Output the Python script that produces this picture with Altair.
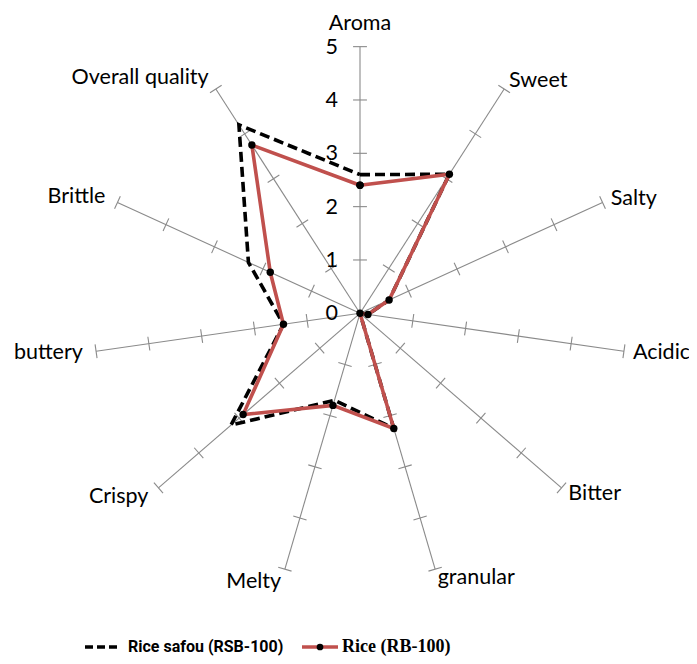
import altair as alt
import pandas as pd

categories = ["Aroma", "Sweet", "Salty", "Acidic", "Bitter", "granular",
              "Melty", "Crispy", "buttery", "Brittle", "Overall quality"]
rsb_values = [2.6, 3.1, 0.6, 0.15, 0.0, 2.25, 1.7, 3.2, 1.45, 2.3, 4.2]
rb_values = [2.4, 3.1, 0.6, 0.15, 0.0, 2.25, 1.8, 2.9, 1.45, 1.85, 3.75]
scale_ticks = [0, 1, 2, 3, 4, 5]
series_names = ["Rice safou (RSB-100)", "Rice (RB-100)"]

N = len(categories)
RMAX = max(scale_ticks)

rows = []
for s, vals in zip(series_names, [rsb_values, rb_values]):
    for i in range(N + 1):  # repeat first point to close the polygon
        rows.append({"series": s, "idx": i, "category": categories[i % N], "value": vals[i % N]})
df = pd.DataFrame(rows)
axes_df = pd.DataFrame({"idx": list(range(N)), "category": categories})
ticks_df = pd.DataFrame([{"idx": i, "k": k} for i in range(N) for k in scale_ticks[1:]])
nums_df = pd.DataFrame({"k": scale_ticks, "label": [str(k) for k in scale_ticks]})
legend_df = pd.DataFrame({"label": series_names})

W, H = 681, 648
PX = 53.33
CXV, CYV = 352.0, 305.3
xdom = [-CXV / PX, (W - CXV) / PX]
ydom = [-(H - CYV) / PX, CYV / PX]
xs = alt.Scale(domain=xdom, nice=False, zero=False)
ys = alt.Scale(domain=ydom, nice=False, zero=False)

theta = f"datum.idx * 2 * PI / {N}"
GRAY = "#8a8a8a"
RED = "#C0504D"
LABEL_FONT = "Lato"
LABEL_SIZE = 21.5

spokes = alt.Chart(axes_df).transform_calculate(
    t=theta
).transform_calculate(
    x0="0", y0="0", x1=f"{RMAX} * sin(datum.t)", y1=f"{RMAX} * cos(datum.t)"
).mark_rule(color=GRAY, strokeWidth=1.1).encode(
    x=alt.X("x0:Q", scale=xs, axis=None), y=alt.Y("y0:Q", scale=ys, axis=None),
    x2="x1:Q", y2="y1:Q"
)

h = 0.13
ticks = alt.Chart(ticks_df).transform_calculate(
    t=theta
).transform_calculate(
    xa=f"datum.k * sin(datum.t) + {h} * cos(datum.t)",
    ya=f"datum.k * cos(datum.t) - {h} * sin(datum.t)",
    xb=f"datum.k * sin(datum.t) - {h} * cos(datum.t)",
    yb=f"datum.k * cos(datum.t) + {h} * sin(datum.t)",
).mark_rule(color=GRAY, strokeWidth=1.1).encode(
    x=alt.X("xa:Q", scale=xs, axis=None), y=alt.Y("ya:Q", scale=ys, axis=None),
    x2="xb:Q", y2="yb:Q"
)

nums = alt.Chart(nums_df).transform_calculate(
    x="0", y="datum.k"
).mark_text(align="right", baseline="middle", dx=-22, dy=1, fontSize=LABEL_SIZE,
            font=LABEL_FONT, color="black").encode(
    x=alt.X("x:Q", scale=xs, axis=None), y=alt.Y("y:Q", scale=ys, axis=None),
    text="label:N"
)

def cat_labels(cond, align, baseline, r):
    return alt.Chart(axes_df).transform_calculate(
        t=theta
    ).transform_calculate(
        s="sin(datum.t)",
        x=f"{r} * sin(datum.t)", y=f"{r} * cos(datum.t)"
    ).transform_filter(cond).mark_text(
        align=align, baseline=baseline, fontSize=LABEL_SIZE, font=LABEL_FONT, color="black"
    ).encode(
        x=alt.X("x:Q", scale=xs, axis=None), y=alt.Y("y:Q", scale=ys, axis=None),
        text="category:N"
    )

lab_left = cat_labels("datum.s > 0.1", "left", "middle", 5.17)
lab_right = cat_labels("datum.s < -0.1", "right", "middle", 5.25)
lab_center = cat_labels("abs(datum.s) <= 0.1", "center", "bottom", 5.22)

poly = alt.Chart(df).transform_calculate(
    t=theta
).transform_calculate(
    x="datum.value * sin(datum.t)", y="datum.value * cos(datum.t)"
)

line_rsb = poly.transform_filter(alt.datum.series == series_names[0]).mark_line(
    color="black", strokeWidth=3.6, strokeDash=[10, 5]
).encode(
    x=alt.X("x:Q", scale=xs, axis=None), y=alt.Y("y:Q", scale=ys, axis=None),
    order="idx:Q"
)
line_rb = poly.transform_filter(alt.datum.series == series_names[1]).mark_line(
    color=RED, strokeWidth=3.6
).encode(
    x=alt.X("x:Q", scale=xs, axis=None), y=alt.Y("y:Q", scale=ys, axis=None),
    order="idx:Q"
)
pts_rb = poly.transform_filter(alt.datum.series == series_names[1]).mark_circle(
    color="black", size=55, opacity=1
).encode(
    x=alt.X("x:Q", scale=xs, axis=None), y=alt.Y("y:Q", scale=ys, axis=None)
)

LY = 639
leg1_line = alt.Chart(legend_df).transform_filter(alt.datum.label == series_names[0]).mark_rule(
    color="black", strokeWidth=3.6, strokeDash=[8, 4]
).encode(x=alt.value(77), x2=alt.value(113), y=alt.value(LY))
leg1_text = alt.Chart(legend_df).transform_filter(alt.datum.label == series_names[0]).mark_text(
    align="left", baseline="middle", font="Roboto", fontWeight="bold",
    fontSize=16, color="black"
).encode(x=alt.value(120), y=alt.value(LY), text="label:N")
leg2_line = alt.Chart(legend_df).transform_filter(alt.datum.label == series_names[1]).mark_rule(
    color=RED, strokeWidth=3.6
).encode(x=alt.value(294), x2=alt.value(330), y=alt.value(LY))
leg2_pt = alt.Chart(legend_df).transform_filter(alt.datum.label == series_names[1]).mark_circle(
    color="black", size=45, opacity=1
).encode(x=alt.value(312), y=alt.value(LY))
leg2_text = alt.Chart(legend_df).transform_filter(alt.datum.label == series_names[1]).mark_text(
    align="left", baseline="middle", font="Liberation Serif", fontWeight="bold",
    fontSize=18, color="black"
).encode(x=alt.value(334), y=alt.value(LY), text="label:N")

chart = alt.layer(
    spokes, ticks, nums, lab_left, lab_right, lab_center,
    line_rsb, line_rb, pts_rb,
    leg1_line, leg1_text, leg2_line, leg2_pt, leg2_text
).properties(
    width=W, height=H, autosize=alt.AutoSizeParams(type="none"), padding=0
).configure_view(stroke=None)

chart.save("out.html", embed_options={"renderer": "svg", "actions": False})
